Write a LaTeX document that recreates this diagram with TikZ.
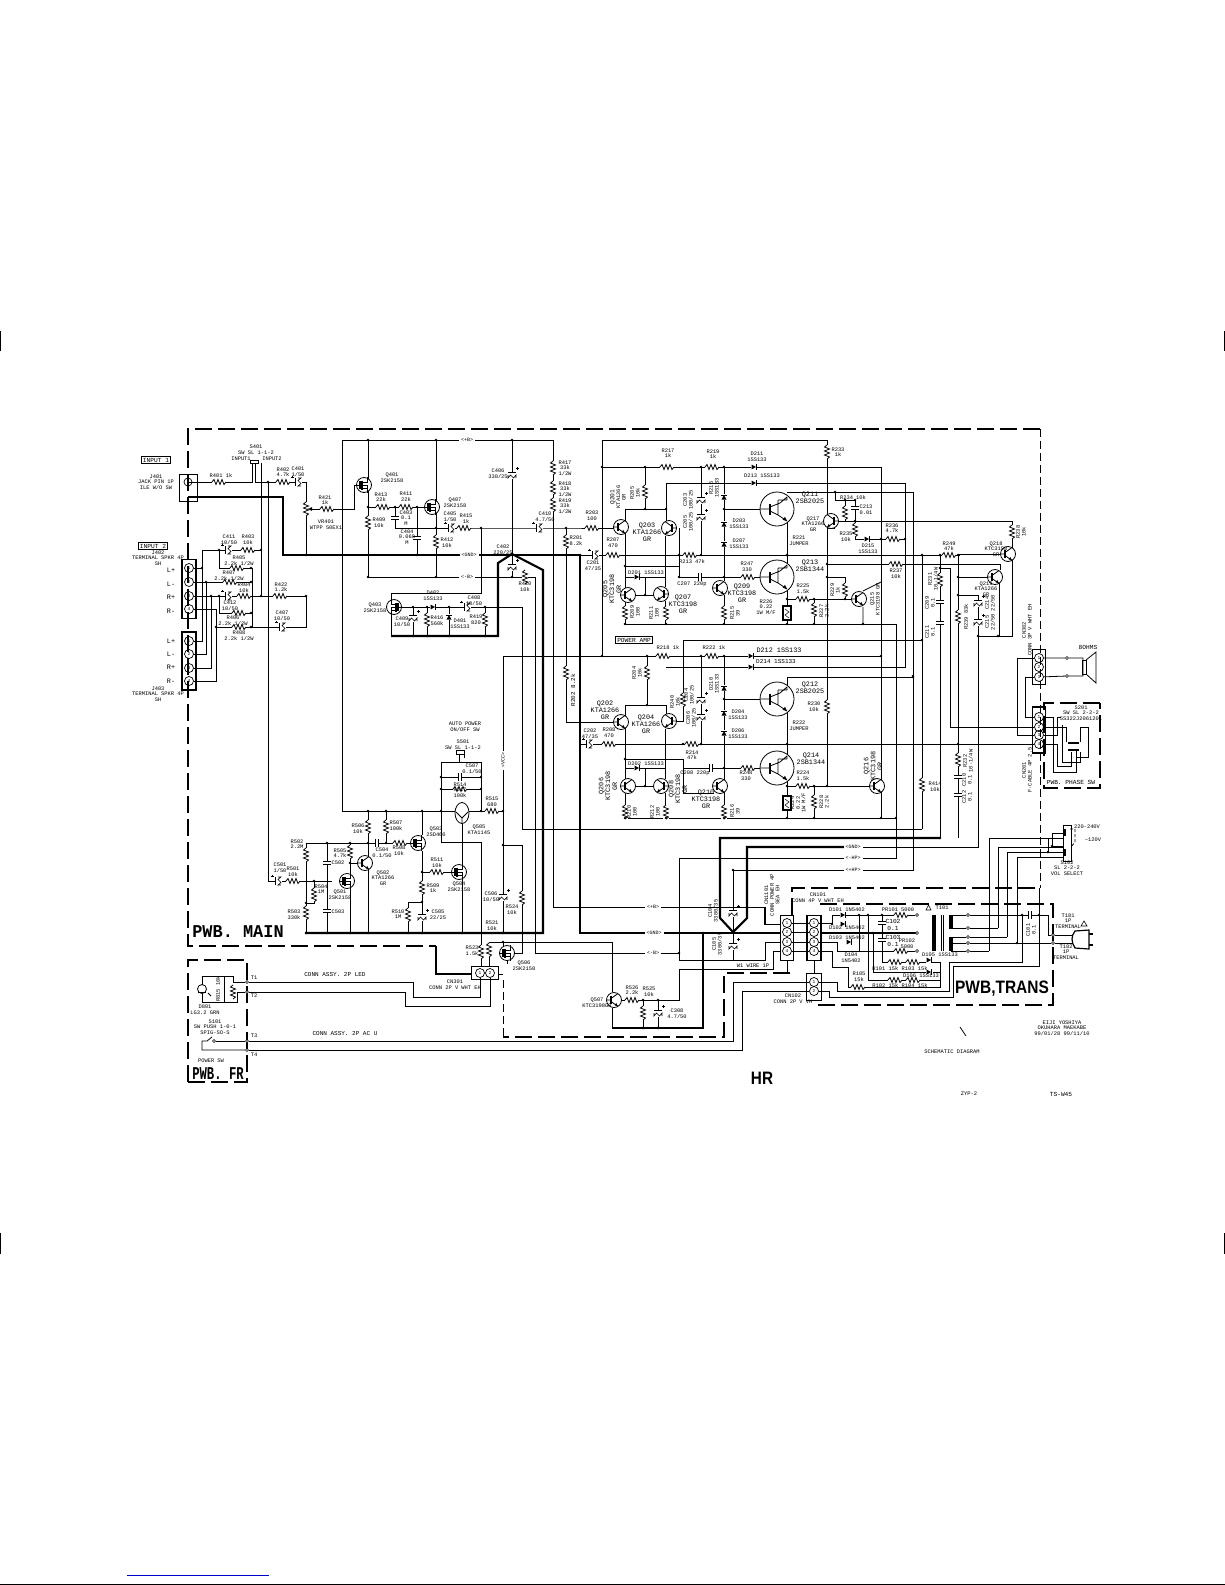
\documentclass[tikz,border=0pt]{standalone}
\usepackage{fontspec}
\setmainfont{Liberation Sans}
\setmonofont{Liberation Mono}
\usetikzlibrary{positioning,shapes.geometric}

\tikzset{
  wire/.style={line width=0.8pt},
  bus/.style={line width=2.1pt},
  frame/.style={line width=2pt, dash pattern=on 17pt off 6pt},
  thinframe/.style={line width=1pt, dash pattern=on 8pt off 4pt},
  lbl/.style={font=\ttfamily\fontsize{5.4}{5.6}\selectfont, inner sep=0pt, align=center},
  mid/.style={font=\ttfamily\fontsize{6.8}{6.8}\selectfont, inner sep=0pt, align=center},
  big/.style={font=\ttfamily\bfseries\fontsize{18}{18}\selectfont, inner sep=0pt},
  tag/.style={draw, line width=0.7pt, font=\ttfamily\fontsize{6.2}{6.2}\selectfont, inner xsep=1.5pt, inner ysep=1.5pt},
  buslbl/.style={fill=white, font=\ttfamily\fontsize{5}{5}\selectfont, inner xsep=2pt, inner ysep=1pt},
  pinn/.style={draw, circle, line width=0.7pt, minimum size=9pt, inner sep=0pt, font=\ttfamily\fontsize{4.5}{4.5}\selectfont},
  conbox/.style={draw, line width=1.8pt, inner sep=0pt},
  term/.style={draw, circle, fill=white, line width=0.6pt, minimum size=3pt, inner sep=0pt},
  reshor/.pic={\fill[white] (-7,-3) rectangle (7,3);
    \draw[wire] (-7,0) -- (-5,-2.5) -- (-3,2.5) -- (-1,-2.5) -- (1,2.5) -- (3,-2.5) -- (5,2.5) -- (7,0);},
  resver/.pic={\fill[white] (-3,-7) rectangle (3,7);
    \draw[wire] (0,-7) -- (-2.5,-5) -- (2.5,-3) -- (-2.5,-1) -- (2.5,1) -- (-2.5,3) -- (2.5,5) -- (0,7);},
  caphor/.pic={\fill[white] (-1.2,-4) rectangle (1.2,4);
    \draw[line width=1.1pt] (-1.2,-4) -- (-1.2,4) (1.2,-4) -- (1.2,4);},
  capver/.pic={\fill[white] (-4,-1.2) rectangle (4,1.2);
    \draw[line width=1.1pt] (-4,-1.2) -- (4,-1.2) (-4,1.2) -- (4,1.2);},
  ecaphor/.pic={\fill[white] (-3,-4) rectangle (4,4);
    \draw[line width=1.5pt] (-2.5,-4) -- (-2.5,4);
    \draw[line width=0.6pt] (0,-4) -- (3,-4) -- (0,-1.5) -- (3,1.5) -- (0,4) -- (3,4);
    \draw[line width=0.7pt] (-7,-5) -- (-4.5,-5) (-5.7,-6.2) -- (-5.7,-3.8);},
  ecapver/.pic={\fill[white] (-4,-3) rectangle (4,4);
    \draw[line width=1.5pt] (-4,-2.5) -- (4,-2.5);
    \draw[line width=0.6pt] (-4,0) -- (-4,3) -- (-1.5,0) -- (1.5,3) -- (4,0) -- (4,3);
    \draw[line width=0.7pt] (4,-6.5) -- (6.5,-6.5) (5.2,-7.7) -- (5.2,-5.3);},
  diohor/.pic={\fill[white] (-3,-3) rectangle (3,3);
    \fill (-2.5,-2.5) -- (2,0) -- (-2.5,2.5) -- cycle;
    \draw[line width=1pt] (2,-2.7) -- (2,2.7);},
  diover/.pic={\fill[white] (-3,-3) rectangle (3,3);
    \fill (-2.5,2.5) -- (0,-2) -- (2.5,2.5) -- cycle;
    \draw[line width=1pt] (-2.7,-2) -- (2.7,-2);},
  bjt/.pic={\draw[wire, fill=white] (0,0) circle (7.5);
    \draw[wire] (-7.5,0) -- (-3,0) (-3,-1.5) -- (4,-6.5) (-3,1.5) -- (4,6.5);
    \draw[line width=1.5pt] (-3,-4) -- (-3,4);
    \fill (4,6.5) -- (0.6,5.2) -- (2.3,2.9) -- cycle;},
  mosfet/.pic={\draw[wire, fill=white] (0,0) circle (7.5);
    \draw[wire] (-7.5,0) -- (-4,0) (-2,-3) -- (3,-3) -- (3,-8) (-2,3) -- (3,3) -- (3,8) (-2,0) -- (3,0) -- (3,3);
    \draw[line width=1.4pt] (-4,-4) -- (-4,4) (-2,-4.5) -- (-2,4.5);},
  powerq/.pic={\draw[wire, fill=white] (0,0) circle (17);
    \draw[wire] (-17,0) -- (-7,0) (-7,-2) -- (3,-6) (-7,2) -- (1,6) -- (10,12) (3,-6) -- (10,-12) (1,6) -- (1,-9) (1,-9) -- (10,-9) (10,-9) -- (10,-12);
    \draw[line width=2pt] (-7,-5.5) -- (-7,5.5);
    \fill (10,12) -- (5.6,10.8) -- (8,7.8) -- cycle;},
}

\newcommand{\dotsat}[1]{\foreach \x/\y in {#1} \fill (\x,\y) circle (1.4);}

\begin{document}
\begin{tikzpicture}[x=1pt,y=-1pt]
  \useasboundingbox (0,0) rectangle (1225,1585);

  % page marks
  \draw[line width=1pt] (0.5,331) -- (0.5,351) (1224.5,331) -- (1224.5,351);
  \draw[line width=1pt] (0.5,1233) -- (0.5,1254) (1224.5,1233) -- (1224.5,1254);
  \draw[line width=1pt, blue!80!black] (127,1575) -- (269,1575);
  \draw[line width=1.2pt] (0,1584.4) -- (1225,1584.4);

  % board frames
  \draw[frame] (1040,429) -- (188,429) -- (188,946) -- (436,946);
  \draw[line width=2pt] (436,946) -- (436,974) -- (472,974);
  \draw[thinframe] (1040,429) -- (1040,888);
  \draw[frame] (792,915) -- (792,888) -- (1039,888);
  \draw[frame] (820,904) -- (1053,904) -- (1053,1005) -- (815,1005);
  \draw[frame] (790,973) -- (724,973) -- (724,1037) -- (503,1037);
  \draw[thinframe] (503,980) -- (503,1037);
  \draw[frame] (188,1082) -- (188,960) -- (247,960) -- (247,1082) -- cycle;
  \draw[frame] (1100,703) -- (1044,703) -- (1044,788) -- (1100,788) -- cycle;

  % ground bus
  \draw[bus] (188,497) -- (283,497) -- (283,555) -- (580,555) -- (580,933) -- (780,933);
  \draw[bus] (391,636) -- (498,636) -- (498,563) -- (512,554) -- (543,570) -- (543,933) -- (305,933);
  \draw[bus] (612,1028) -- (703,1028) -- (703,933);
  \draw[bus] (940,838) -- (720,838) -- (720,918) -- (733,932) -- (747,918) -- (747,847) -- (845,847);
  \draw[bus] (821,933) -- (917,933);

  % input side wiring
  \draw[wire] (188,482) -- (252,482) -- (252,462);
  \draw[wire] (255,463) -- (255,482) -- (306,482) -- (306,555);
  \draw[wire] (261,463) -- (261,595);
  \draw[wire] (268,482) -- (268,881) -- (306,881);
  \draw[wire] (202,568) -- (202,550) -- (261,550);
  \draw[wire] (219,550) -- (219,568) -- (252,568) -- (252,627);
  \draw[wire] (206,582) -- (251,582);
  \draw[wire] (211,596) -- (306,596) -- (306,627) -- (216,627);
  \draw[wire] (219,596) -- (219,613) -- (252,613);

  % preamp
  \draw[wire] (312,509) -- (354,509) -- (354,485) -- (357,485);
  \draw[wire] (342,811) -- (342,440) -- (553,440) -- (553,907) -- (764,907) -- (764,924) -- (781,924);
  \draw[wire] (368,440) -- (368,577) -- (535,577) -- (535,953) -- (679,953);
  \draw[wire] (368,507) -- (425,507);
  \draw[wire] (436,440) -- (436,577);
  \draw[wire] (395,507) -- (395,528) -- (539,528) -- (625,528);
  \draw[wire] (417,507) -- (417,555);
  \draw[wire] (481,528) -- (481,593) -- (391,593) -- (391,636);
  \draw[wire] (401,607) -- (522,607) -- (522,829) -- (922,829);
  \draw[wire] (413,607) -- (413,636) (427,607) -- (427,636) (449,607) -- (449,636) (485,607) -- (485,636);
  \draw[wire] (512,440) -- (512,577);

  % upper power amp
  \draw[wire] (602,656) -- (602,440) -- (827,440) -- (827,786);
  \draw[wire] (602,467) -- (881,467) -- (881,818);
  \draw[wire] (645,467) -- (645,509);
  \draw[wire] (625,533) -- (625,509) -- (666,509) -- (666,520);
  \draw[wire] (666,535) -- (666,483) -- (905,483) -- (905,667) -- (666,667);
  \draw[wire] (625,533) -- (625,588) (665,536) -- (665,587);
  \draw[wire] (625,566) -- (679,566) (625,577) -- (666,577) (645,577) -- (645,595) (635,595) -- (654,595);
  \draw[wire] (625,602) -- (625,624) -- (896,624) -- (896,858) -- (679,858) -- (679,960) -- (765,960) -- (765,942) -- (781,942);
  \draw[wire] (665,601) -- (665,624);
  \draw[wire] (724,467) -- (724,581);
  \draw[wire] (724,509) -- (760,509);
  \draw[wire] (787,492) -- (913,492) -- (913,870) -- (733,870) -- (733,960);
  \draw[wire] (787,521) -- (787,565);
  \draw[wire] (580,555) -- (960,555);
  \draw[wire] (679,528) -- (679,577) -- (724,577);
  \draw[wire] (724,577) -- (760,577);
  \draw[wire] (701,467) -- (701,555);
  \draw[wire] (724,595) -- (724,624);
  \draw[wire] (787,589) -- (787,624);
  \draw[wire] (787,599) -- (852,599);
  \draw[wire] (814,599) -- (814,624);
  \draw[wire] (827,577) -- (845,577) -- (845,599);
  \draw[wire] (863,591) -- (881,582) (863,607) -- (863,624);
  \draw[wire] (827,564) -- (1000,564) -- (1000,570);
  \draw[wire] (835,492) -- (835,500) -- (855,500) -- (855,539) -- (905,539);
  \draw[wire] (845,500) -- (845,521);
  \draw[wire] (839,521) -- (1012,521) -- (1012,636) -- (978,636);
  \draw[wire] (835,528) -- (827,528);

  % lower power amp
  \draw[wire] (503,811) -- (503,656) -- (881,656);
  \draw[wire] (647,656) -- (647,705);
  \draw[wire] (625,728) -- (625,705) -- (666,705) -- (666,714);
  \draw[wire] (566,555) -- (566,722) -- (614,722);
  \draw[wire] (566,528) -- (566,555);
  \draw[wire] (625,728) -- (625,779) (665,729) -- (665,779);
  \draw[wire] (625,793) -- (625,818) -- (896,818);
  \draw[wire] (665,793) -- (665,818);
  \draw[wire] (625,759) -- (683,759) -- (683,793) -- (714,793);
  \draw[wire] (625,768) -- (666,768) (645,768) -- (645,786) (635,786) -- (654,786);
  \draw[wire] (580,744) -- (960,744);
  \draw[wire] (676,721) -- (683,721) -- (683,640) -- (922,640);
  \draw[wire] (701,656) -- (701,744);
  \draw[wire] (724,656) -- (724,780);
  \draw[wire] (724,699) -- (760,699);
  \draw[wire] (683,768) -- (760,768);
  \draw[wire] (787,688) -- (787,677) -- (913,677);
  \draw[wire] (787,711) -- (787,756);
  \draw[wire] (787,780) -- (787,818);
  \draw[wire] (787,786) -- (870,786);
  \draw[wire] (814,786) -- (814,818);
  \draw[wire] (724,792) -- (724,818);
  \draw[wire] (881,779) -- (881,793);

  % right hand rail
  \draw[wire] (922,555) -- (922,829);
  \draw[wire] (940,555) -- (940,838);
  \draw[wire] (958,555) -- (958,838);
  \draw[wire] (958,554) -- (1000,554);
  \draw[wire] (958,577) -- (988,577);
  \draw[wire] (958,595) -- (978,595) -- (978,847) -- (845,847);
  \draw[wire] (999,583) -- (999,636);

  % auto power section
  \draw[wire] (342,811) -- (503,811);
  \draw[wire] (503,811) -- (503,933);
  \draw[wire] (503,845) -- (522,845) -- (522,953) -- (515,953);
  \draw[wire] (306,843) -- (412,843);
  \draw[wire] (306,843) -- (306,933);
  \draw[wire] (306,903) -- (314,903) -- (314,881);
  \draw[wire] (306,881) -- (332,881);
  \draw[wire] (327,843) -- (327,933);
  \draw[wire] (350,843) -- (350,873) (350,889) -- (350,933) (350,863) -- (358,863);
  \draw[wire] (368,811) -- (368,857) (368,870) -- (368,933);
  \draw[wire] (386,811) -- (386,843);
  \draw[wire] (422,811) -- (422,835) (422,851) -- (422,933) (422,872) -- (452,872);
  \draw[wire] (422,902) -- (408,902) -- (408,933);
  \draw[wire] (441,811) -- (441,762) -- (481,762) -- (481,811) (441,777) -- (481,777) (441,789) -- (481,789);
  \draw[wire] (441,811) -- (441,842) -- (481,842) -- (481,967);
  \draw[wire] (459,754) -- (459,762) (464,754) -- (464,758);
  \draw[wire] (462,820) -- (462,933);
  \draw[wire] (490,942) -- (612,942) -- (612,992);
  \draw[wire] (489,942) -- (489,967);
  \draw[wire] (503,942) -- (503,946);
  \draw[wire] (507,961) -- (507,964);
  \draw[wire] (612,1008) -- (612,1028);
  \draw[wire] (622,1000) -- (679,1000) -- (679,969) -- (773,969) -- (773,951) -- (781,951);
  \draw[wire] (643,1000) -- (643,1028) (658,1000) -- (658,1028);
  \draw[wire] (765,907) -- (765,924);

  % connectors J402, J403, J401
  \node[conbox, minimum width=14pt, minimum height=59pt] (J402box) at (189,589) {};
  \node[conbox, minimum width=14pt, minimum height=58pt] (J403box) at (189,661) {};
  \node[draw, line width=1pt, minimum width=18pt, minimum height=27pt, inner sep=0pt] (J401box) at (188,488) {};
  \node[pinn, minimum size=8pt] (J401pin) at (188,482) {};
  \foreach \n/\y/\t in {a/568/1,b/582/2,c/596/3,d/609/4} \node[pinn] (J402\n) at (189,\y) {\t};
  \foreach \n/\y/\t in {a/641/1,b/654/2,c/668/3,d/681/4} \node[pinn] (J403\n) at (189,\y) {\t};
  \draw[wire] (J402a) -- (202,568) -- (202,641) -- (J403a);
  \draw[wire] (J402b) -- (206,582) -- (206,654) -- (J403b);
  \draw[wire] (J402c) -- (211,596) -- (211,668) -- (J403c);
  \draw[wire] (J402d) -- (216,609) -- (216,681) -- (J403d);
  \foreach \t/\y/\s in {L+/570/Lp1,L-/584/Lm1,R+/597/Rp1,R-/611/Rm1,L+/641/Lp2,L-/654/Lm2,R+/667/Rp2,R-/681/Rm2}
    \node[mid] (\s) at (171,\y) {\t};

  % connectors to power side
  \node[conbox, minimum width=13pt, minimum height=45pt] (CN1101box) at (787,938) {};
  \node[conbox, minimum width=14pt, minimum height=45pt] (CN101box) at (814,938) {};
  \node[conbox, line width=1pt, minimum width=15pt, minimum height=27pt] (CN102box) at (814,987) {};
  \foreach \n/\y/\t in {a/923/1,b/932/2,c/942/3,d/951/4} {
    \node[pinn] (CNa\n) at (787,\y) {\t};
    \node[pinn] (CNb\n) at (814,\y) {\t};
    \draw[wire] (CNa\n) -- (CNb\n);
  }
  \node[pinn] (CN102a) at (814,982) {1};
  \node[pinn] (CN102b) at (814,991) {2};
  \draw[wire] (787,960) -- (787,973) (814,960) -- (814,973);

  \node[conbox, minimum width=27pt, minimum height=13pt] (CN301box) at (485,973) {};
  \node[pinn] (CN301a) at (480,973) {1};
  \node[pinn] (CN301b) at (490,973) {2};
  \draw[wire] (499,974) -- (503,974);

  \node[conbox, line width=1.4pt, minimum width=13pt, minimum height=35pt] (CN302box) at (1039,667) {};
  \node[conbox, line width=1.6pt, minimum width=13pt, minimum height=46pt] (CN201box) at (1039,730) {};
  \foreach \n/\y/\t in {a/658/1,b/667/2,c/677/3} \node[pinn] (CP\n) at (1039,\y) {\t};
  \foreach \n/\y/\t in {a/717/1,b/727/2,c/735/3,d/744/4} \node[pinn] (CF\n) at (1039,\y) {\t};

  % links to the front board
  \node[term] (T11) at (247,982) {};
  \node[term] (T12) at (247,992) {};
  \node[term] (T13) at (247,1041) {};
  \node[term] (T14) at (247,1050) {};
  \draw[wire] (CN301a) -- (480,997) -- (413,997) -- (413,982) -- (T11);
  \draw[wire] (CN301b) -- (490,1006) -- (405,1006) -- (405,992) -- (T12);
  \draw[wire] (T13) -- (733,1041) -- (733,982) -- (CN102a);
  \draw[wire] (T14) -- (742,1050) -- (742,991) -- (CN102b);
  \draw[wire] (T11) -- (233,982) -- (233,976) -- (202,976) -- (202,1002) -- (237,1002) -- (237,992) -- (T12);
  \draw[wire] (224,976) -- (224,1002);
  \node[term] (S101a) at (214,1041) {};
  \draw[wire] (T13) -- (S101a);
  \draw[wire] (T14) -- (202,1050) -- (202,1041) -- (207,1041) -- (212,1037);

  % speaker and phase switch
  \node[term] (SPa) at (1067,658) {};
  \node[term] (SPb) at (1067,676) {};
  \draw[wire] (CPa) -- (SPa) -- (1083,658) -- (1083,676) -- (SPb) -- (CPc);
  \node[draw, line width=0.7pt, inner sep=0pt, minimum width=3.5pt, minimum height=14pt] (spcoil) at (1084.5,667) {};
  \draw[line width=0.8pt] (1086,660) -- (1096,652) -- (1096,683) -- (1086,674);
  \draw[wire] (CPa) -- (1017,658) -- (1017,735) -- (CFc);
  \draw[wire] (CPc) -- (1025,677) -- (1025,717) -- (CFa);
  \draw[wire] (950,568) -- (950,727) -- (CFb);
  \draw[wire] (940,568) -- (950,568);
  \draw[wire] (958,744) -- (CFd);
  \draw[wire] (CFa) -- (1053,717) -- (1053,772) -- (1076,772) -- (1076,750);
  \draw[wire] (CFb) -- (1066,727) -- (1066,742);
  \draw[wire] (CFc) -- (1057,735) -- (1057,717) -- (1061,717);
  \draw[wire] (CFd) -- (1057,744) -- (1057,766) -- (1071,766) -- (1071,752);
  \draw[wire] (1062,725) -- (1062,762) -- (1080,762) -- (1080,752);
  \draw[wire] (1080,742) -- (1080,727) -- (1088,727) -- (1088,757) -- (1076,757);
  \draw[line width=2.2pt] (1068,743) -- (1079,743) (1068,750) -- (1079,750);

  % voltage selector
  \node[draw, line width=0.8pt, minimum width=8pt, minimum height=36pt, inner sep=0pt] (S102box) at (1067,843) {};
  \draw[line width=2pt] (1065,829) -- (1065,836) (1065,849) -- (1065,856);
  \draw[wire, densely dashed] (1070,829) -- (1075,829) -- (1075,842) -- (1071,847);
  \draw[wire] (1063,838) -- (989,838) -- (989,951);
  \draw[wire] (1063,846) -- (1052,846) -- (1052,833) -- (1063,833);
  \draw[wire] (1063,852) -- (1007,852) -- (1007,937);
  \draw[wire] (1063,857) -- (1017,857) -- (1017,943);
  \draw[wire] (1063,847) -- (998,847) -- (998,928);
  \draw[wire] (1048,838) -- (1048,852);
  \dotsat{1048/852,1052/846}

  % transformer side
  \node[term] (P1) at (917,915) {};
  \node[term] (P2) at (917,933) {};
  \node[term] (P3) at (917,951) {};
  \foreach \n/\y in {a/915,b/928,c/937,d/943,e/951} \node[term] (S\n) at (968,\y) {};
  \draw[line width=4pt] (934,915) -- (934,951);
  \draw[wire] (941,915) -- (941,951) (943.5,915) -- (943.5,951);
  \draw[line width=4pt] (951,915) -- (951,929) (951,937) -- (951,951);
  \draw[wire] (951,915) -- (Sa) (951,928) -- (Sb) (951,937) -- (Sc) (951,943) -- (Sd) (951,951) -- (Se);
  \draw[wire] (Se) -- (989,951) (Sb) -- (998,928) (Sc) -- (1007,937) (Sd) -- (1017,943);
  \node[term] (AC1) at (1053,935) {};
  \node[term] (AC2) at (1053,943) {};
  \draw[wire] (Sa) -- (1039,915) -- (1048,915) -- (1048,935) -- (AC1);
  \draw[wire] (Sd) -- (AC2);
  \draw[wire] (1022,915) -- (1022,962) -- (949,962) -- (949,991) -- (837,991) -- (837,982) -- (CN102a);
  \draw[wire] (1039,888) -- (1039,966) -- (953,966) -- (953,997) -- (829,997) -- (829,991) -- (CN102b);
  \draw[wire] (CNbd) -- (832,951) -- (832,967) -- (848,967) -- (848,987) -- (940,987) -- (940,962);
  \draw[wire] (CNba) -- (832,923) -- (832,915) -- (P1);
  \draw[wire] (CNbc) -- (837,942) -- (837,951) -- (859,951);
  \draw[wire] (859,915) -- (859,951) -- (P3);
  \draw[wire] (868,915) -- (868,980) -- (940,980);
  \draw[wire] (873,933) -- (873,972) -- (930,972) (933,972) -- (940,972);
  \draw[wire] (882,915) -- (882,962) -- (940,962);
  \draw[wire] (AC1) -- (1075,935) (AC2) -- (1075,943);
  \draw[line width=1.2pt, fill=white] (1075,931) .. controls (1071,936) and (1071,942) .. (1075,948) -- (1089,949) -- (1089,930) -- cycle;
  \draw[line width=1.2pt] (1089,934) -- (1093,934) (1089,945) -- (1093,945);
  \draw[line width=0.6pt] (926,910) -- (931,910) -- (928.5,905) -- cycle;
  \draw[line width=0.6pt] (1081,926) -- (1087,926) -- (1084,921) -- cycle;

  % resistors
  \foreach \x/\y in {219/482,283/482,327/509,383/507,406/507,464/528,248/550,237/568,230/582,244/596,239/613,239/627,280/596,
    592/528,613/555,690/555,667/467,712/467,748/577,803/599,893/539,609/744,692/744,663/656,712/656,748/768,803/786,
    949/555,896/564,293/881,400/843,437/872,492/811,460/789,632/1000,901/915,901/951,895/962,913/962,895/980,913/980,858/987}
    \pic at (\x,\y) {reshor};
  \foreach \x/\y in {306/509,368/523,436/542,427/620,485/620,525/577,
    553/468,553/488,553/505,566/542,566/673,645/492,845/513,855/530,827/452,827/707,814/610,814/802,845/590,
    625/613,666/613,724/613,625/812,666/812,724/812,647/673,683/700,
    1012/532,940/580,958/617,958/760,922/785,
    306/855,306/913,314/895,350/852,368/827,386/827,422/888,408/915,522/898,481/952,489/950,643/1013,233/992}
    \pic at (\x,\y) {resver};
  \draw[line width=1.6pt, fill=white] (783,606) rectangle (791,620);
  \draw[line width=1.6pt, fill=white] (783,796) rectangle (791,810);
  \draw[line width=0.5pt] (785,609) -- (789,612) -- (785,615) -- (789,618);
  \draw[line width=0.5pt] (785,799) -- (789,802) -- (785,805) -- (789,808);

  % capacitors
  \foreach \x/\y in {700/577,711/768,460/777,377/843,1030/915}
    \pic at (\x,\y) {caphor};
  \foreach \x/\y in {395/518,417/538,855/508,940/602,940/623,958/777,958/795,327/863,327/911,882/923,882/940}
    \pic at (\x,\y) {capver};
  \foreach \x/\y in {298/482,228/550,228/596,282/627,451/528,539/528,467/607,595/555,589/744,278/881}
    \pic at (\x,\y) {ecaphor};
  \foreach \x/\y in {512/475,512/567,413/618,701/500,701/517,701/700,701/717,978/603,978/622,422/917,503/897,658/1013,733/913,733/946}
    \pic at (\x,\y) {ecapver};

  % diodes
  \foreach \x/\y in {754/467,754/483,751/656,751/667,637/577,637/768,867/539,433/607,843/915,843/924,849/942,929/960,929/972}
    \pic at (\x,\y) {diohor};
  \foreach \x/\y in {724/497,724/524,724/544,724/688,724/713,724/733,449/617}
    \pic at (\x,\y) {diover};

  % transistors
  \foreach \x/\y in {628/595,720/588,720/786,628/786,859/599,877/786,614/1000,995/577,1008/554}
    \pic at (\x,\y) {bjt};
  \pic[xscale=-1] at (661,594) {bjt};
  \pic[xscale=-1] at (661,786) {bjt};
  \pic at (621,527) {bjt};
  \pic at (621,722) {bjt};
  \pic[xscale=-1] at (669,528) {bjt};
  \pic[xscale=-1] at (669,721) {bjt};
  \pic[xscale=-1] at (831,521) {bjt};
  \pic at (365,863) {bjt};
  \foreach \x/\y in {364/485,432/507,347/881,418/843,459/872,507/953}
    \pic at (\x,\y) {mosfet};
  \pic[xscale=-1] at (394,607) {mosfet};
  \foreach \x/\y in {777/509,777/577,777/699,777/768}
    \pic at (\x,\y) {powerq};
  \node[draw, ellipse, line width=0.8pt, fill=white, minimum width=14pt, minimum height=21pt, inner sep=0pt] (Q505) at (462,813) {};
  \draw[wire] (456,812) -- (462,818) -- (468,812) (462,818) -- (462,824);

  % led, pot wiper, switches
  \draw[wire, fill=white] (202,989) circle (4.5);
  \draw[line width=1pt] (198,992) -- (206,992);
  \draw[wire] (208,993) -- (211,996);
  \draw[wire, -latex] (306,509) ++(6,0) -- ++(-5,0);
  \draw[line width=0.9pt, fill=white] (250,460) rectangle (258,463);
  \draw[line width=0.9pt, fill=white] (456,750) rectangle (464,754);

  % junctions
  \dotsat{268/482,261/550,261/596,202/568,206/582,211/596,216/627,219/550,219/596,251/568,251/582,251/613,251/627,
    306/555,306/596,368/507,395/507,417/507,417/555,436/528,436/440,368/440,368/577,436/577,481/528,512/440,512/555,512/577,
    413/607,427/607,449/607,485/607,413/636,427/636,449/636,485/636,566/528,566/555,580/555,
    602/467,645/467,701/467,724/467,645/509,666/509,625/566,679/555,679/577,645/595,701/555,724/509,724/577,787/555,787/599,814/599,
    625/624,666/624,724/624,787/624,814/624,863/624,827/564,827/577,845/599,835/492,845/500,855/500,855/521,881/539,905/539,
    602/656,647/656,701/656,724/656,881/656,647/705,625/759,645/786,683/744,701/744,724/699,724/768,787/744,787/786,814/786,827/786,
    625/818,666/818,724/818,787/818,814/818,881/818,896/818,913/677,922/555,940/555,958/555,922/640,940/568,958/577,958/595,958/744,
    978/636,998/636,940/838,913/676,
    306/903,314/881,327/843,350/843,350/863,368/811,368/843,386/811,386/843,422/811,422/872,422/902,441/777,441/789,441/811,481/777,481/789,481/811,
    503/811,503/845,503/933,503/942,306/933,327/933,350/933,368/933,408/933,422/933,462/933,
    643/1000,658/1000,643/1028,658/1028,679/953,703/933,733/932,733/870,
    832/924,859/915,868/915,882/915,873/933,882/933,1022/915,1039/915,1017/943}

  % bus tags
  \node[buslbl] (tagB1) at (467,440) {<+B>};
  \node[buslbl] (tagG1) at (469,555) {<GND>};
  \node[buslbl] (tagM1) at (467,577) {<-B>};
  \node[buslbl, rotate=90] (tagV) at (503,760) {<VCC>};
  \node[buslbl] (tagG2) at (853,847) {<GND>};
  \node[buslbl] (tagHm) at (853,858) {<-HP>};
  \node[buslbl] (tagHp) at (853,870) {<+HP>};
  \node[buslbl] (tagB2) at (653,907) {<+B>};
  \node[buslbl] (tagG3) at (654,933) {<GND>};
  \node[buslbl] (tagM2) at (653,953) {<-B>};

  % boxed titles and board names
  \node[tag] (input1) at (156,460) {INPUT 1};
  \node[tag] (input2) at (153,546) {INPUT 2};
  \node[tag] (powamp) at (634,640) {POWER AMP};
  \node[big] (pwbmain) at (238,932) {\scalebox{0.94}[1]{PWB. MAIN}};
  \node[big] (pwbfr) at (218,1074) {\scalebox{0.68}[1]{PWB. FR}};
  \node[font=\bfseries\fontsize{18}{18}\selectfont, inner sep=0pt] (pwbtrans) at (1002,989) {\scalebox{0.86}[1]{PWB,TRANS}};
  \node[font=\bfseries\fontsize{18}{18}\selectfont, inner sep=0pt] (hr) at (762,1078) {\scalebox{0.85}[1]{HR}};
  \node[mid, font=\ttfamily\fontsize{6.2}{6.2}\selectfont] (pwbphase) at (1071,782) {PWB. PHASE SW};

  % input labels
  \node[lbl] (J401t) at (156,482) {J401\\JACK PIN 1P\\ILE W/O SW};
  \node[lbl] (S401t) at (256,450) {S401\\SW SL 1-1-2};
  \node[lbl] (S401a) at (241,459) {INPUT1};
  \node[lbl] (S401b) at (272,459) {INPUT2};
  \node[lbl] (J402t) at (158,558) {J402\\TERMINAL SPKR 4P\\SH};
  \node[lbl] (J403t) at (158,694) {J403\\TERMINAL SPKR 4P\\SH};
  \node[lbl] (R401t) at (221,476) {R401 1k};
  \node[lbl] (R402t) at (283,472) {R402\\4.7k};
  \node[lbl] (C401t) at (298,472) {C401\\1/50};
  \node[lbl] (R421t) at (325,500) {R421\\1k};
  \node[lbl] (VR401t) at (326,525) {VR401\\WTPP 50EX1};
  \node[lbl] (C411t) at (229,540) {C411\\10/50};
  \node[lbl] (R403t) at (248,540) {R403\\10k};
  \node[lbl] (R405t) at (239,561) {R405\\2.2k 1/2W};
  \node[lbl] (R407t) at (229,576) {R407\\2.2k 1/2W};
  \node[lbl] (R404t) at (244,588) {R404\\10k};
  \node[lbl] (C412t) at (230,606) {C412\\10/50};
  \node[lbl] (R408t) at (233,621) {R406\\2.2k 1/2W};
  \node[lbl] (R406t) at (239,636) {R408\\2.2k 1/2W};
  \node[lbl] (R422t) at (281,587) {R422\\1.2k};
  \node[lbl] (C407t) at (282,616) {C407\\10/50};
  % preamp labels
  \node[lbl] (Q401t) at (392,478) {Q401\\2SK2158};
  \node[lbl] (Q407t) at (455,503) {Q407\\2SK2158};
  \node[lbl] (R413t) at (381,497) {R413\\22k};
  \node[lbl] (R411t) at (406,497) {R411\\22k};
  \node[lbl] (R409t) at (379,523) {R409\\10k};
  \node[lbl] (C403t) at (406,518) {C403\\0.1\\M};
  \node[lbl] (C404t) at (407,537) {C404\\0.068\\M};
  \node[lbl] (C405t) at (450,517) {C405\\1/50};
  \node[lbl] (R415t) at (466,519) {R415\\1k};
  \node[lbl] (R412t) at (447,543) {R412\\10k};
  \node[lbl] (C406t) at (498,474) {C406\\330/25};
  \node[lbl] (C402t) at (503,550) {C402\\220/25};
  \node[lbl] (C413t) at (545,517) {C410\\4.7/50};
  \node[lbl] (R420t) at (525,587) {R420\\10k};
  \node[lbl] (Q403t) at (375,608) {Q403\\2SK2158};
  \node[lbl] (C409t) at (402,622) {C409\\10/50};
  \node[lbl] (D402t) at (433,596) {D402\\1SS133};
  \node[lbl] (R416t) at (437,621) {R416\\560k};
  \node[lbl] (D401t) at (460,624) {D401\\1SS133};
  \node[lbl] (C408t) at (474,601) {C408\\10/50};
  \node[lbl] (R419t) at (476,620) {R419\\820};
  \node[lbl] (R417t) at (565,468) {R417\\33k\\1/2W};
  \node[lbl] (R418t) at (565,489) {R418\\33k\\1/2W};
  \node[lbl] (R419bt) at (565,506) {R419\\33k\\1/2W};
  % upper amp labels
  \node[lbl] (R217t) at (668,453) {R217\\1k};
  \node[lbl] (R219t) at (713,454) {R219\\1k};
  \node[lbl] (D211t) at (757,457) {D211\\1SS133};
  \node[lbl] (D213t) at (762,476) {D213 1SS133};
  \node[lbl, rotate=90] (Q201t) at (618,497) {\fontsize{6.2}{6.2}\selectfont Q201\\KTA1266\\GR};
  \node[lbl, rotate=90] (R205t) at (635,493) {R205\\10k};
  \node[lbl] (R203t) at (592,516) {R203\\100};
  \node[lbl] (R201t) at (576,541) {R201\\8.2k};
  \node[mid] (Q203t) at (647,532) {Q203\\KTA1266\\GR};
  \node[lbl] (R207t) at (613,543) {R207\\470};
  \node[lbl] (C201t) at (593,566) {C201\\47/35};
  \node[lbl] (R213t) at (692,562) {R213 47k};
  \node[lbl, rotate=90] (C203t) at (688,500) {C203\\100/25};
  \node[lbl, rotate=90] (C205t) at (688,522) {C205\\100/25};
  \node[lbl, rotate=90] (D205t) at (714,488) {R215\\1SS133};
  \node[lbl] (D203t) at (739,524) {D203\\1SS133};
  \node[lbl] (D207t) at (739,544) {D207\\1SS133};
  \node[mid] (Q211t) at (810,498) {Q211\\2SB2025};
  \node[lbl] (Q217t) at (813,524) {Q217\\KTA1266\\GR};
  \node[lbl] (R234t) at (853,498) {R234 10k};
  \node[lbl] (C213t) at (866,510) {C213\\0.01};
  \node[lbl] (R235t) at (846,537) {R235\\10k};
  \node[lbl] (R236t) at (892,528) {R236\\4.7k};
  \node[lbl] (D215t) at (868,549) {D215\\1SS133};
  \node[lbl] (J221t) at (799,541) {R221\\JUMPER};
  \node[mid] (Q213t) at (810,566) {Q213\\2SB1344};
  \node[lbl] (R247t) at (747,567) {R247\\330};
  \node[lbl] (D201t) at (646,573) {D201 1SS133};
  \node[lbl] (C207t) at (692,584) {C207 220p};
  \node[mid] (Q209t) at (742,593) {Q209\\KTC3198\\GR};
  \node[mid, rotate=90] (Q205t) at (612,589) {Q205\\KTC3198\\GR};
  \node[mid] (Q207t) at (683,604) {Q207\\KTC3198\\GR};
  \node[lbl, rotate=90] (R209t) at (635,612) {R209\\100};
  \node[lbl, rotate=90] (R211t) at (654,613) {R211\\100};
  \node[lbl, rotate=90] (R215t) at (735,613) {R215\\39};
  \node[lbl] (R223t) at (766,607) {R226\\0.22\\1W M/F};
  \node[lbl] (R225t) at (803,589) {R225\\1.5k};
  \node[lbl, rotate=90] (R227t) at (824,611) {R227\\2.2k};
  \node[lbl, rotate=90] (R229t) at (835,590) {R229\\1k};
  \node[lbl] (R233t) at (838,452) {R233\\1k};
  \node[lbl] (R237t) at (896,574) {R237\\10k};
  \node[lbl, rotate=90] (Q215t) at (875,599) {Q215\\KTC3198 GR};
  % lower amp labels
  \node[lbl] (R218t) at (668,648) {R218 1k};
  \node[lbl] (R222t) at (714,648) {R222 1k};
  \node[mid] (D212t) at (779,650) {D212 1SS133};
  \node[lbl, font=\ttfamily\fontsize{6}{6}\selectfont] (D214t) at (776,662) {D214 1SS133};
  \node[lbl, rotate=90] (R202t) at (573,690) {\fontsize{6}{6}\selectfont R202 8.2k};
  \node[lbl, rotate=90] (R204t) at (637,673) {R204\\10k};
  \node[lbl, rotate=90] (D210t) at (714,684) {D210\\1SS133};
  \node[lbl] (D204t) at (738,715) {D204\\1SS133};
  \node[lbl] (D206t) at (738,734) {D206\\1SS133};
  \node[lbl, rotate=90] (C204t) at (689,695) {C204\\100/25};
  \node[lbl, rotate=90] (C206t) at (691,718) {C206\\100/25};
  \node[lbl, rotate=90] (R240t) at (675,702) {R240\\10k};
  \node[mid] (Q202t) at (605,710) {Q202\\KTA1266\\GR};
  \node[mid] (Q204t) at (646,724) {Q204\\KTA1266\\GR};
  \node[lbl] (C202t) at (590,734) {C202\\47/35};
  \node[lbl] (R208t) at (609,733) {R208\\470};
  \node[lbl] (R214t) at (692,755) {R214\\47k};
  \node[lbl] (D202t) at (646,764) {D202 1SS133};
  \node[lbl] (C208t) at (695,773) {C208 220p};
  \node[mid] (Q212t) at (810,688) {Q212\\2SB2025};
  \node[lbl] (J222t) at (799,726) {R222\\JUMPER};
  \node[lbl] (R230t) at (814,707) {R230\\10k};
  \node[mid] (Q214t) at (811,759) {Q214\\2SB1344};
  \node[lbl] (R248t) at (746,776) {R248\\330};
  \node[lbl] (R226t) at (803,776) {R224\\1.5k};
  \node[mid, rotate=90] (Q206t) at (608,786) {Q206\\KTC3198\\GR};
  \node[mid, rotate=90] (Q208t) at (678,789) {Q208\\KTC3198\\GR};
  \node[mid] (Q210t) at (706,799) {Q210\\KTC3198\\GR};
  \node[lbl, rotate=90] (R210t) at (632,812) {R210\\100};
  \node[lbl, rotate=90] (R212t) at (655,812) {R212\\100};
  \node[lbl, rotate=90] (R216t) at (735,811) {R216\\39};
  \node[lbl, rotate=90] (R224t) at (798,803) {R224\\0.22\\1W M/F};
  \node[lbl, rotate=90] (R228t) at (824,802) {R228\\2.2k};
  \node[mid, rotate=90] (Q216t) at (873,766) {Q216\\KTC3198\\GR};
  % right side labels
  \node[lbl] (R249t) at (949,546) {R249\\47k};
  \node[lbl, rotate=90] (R231t) at (933,579) {R231\\10-1/4W};
  \node[lbl, rotate=90] (C209t) at (930,603) {C209\\0.1};
  \node[lbl, rotate=90] (C211t) at (930,632) {C211\\0.1};
  \node[lbl, rotate=90] (R239t) at (966,617) {R239 83k};
  \node[lbl] (Q219t) at (986,589) {Q219\\KTA1266\\GR};
  \node[lbl] (Q218t) at (996,549) {Q218\\KTC3198\\GR};
  \node[lbl, rotate=90] (R238t) at (1021,532) {R238\\10k};
  \node[lbl, rotate=90] (C214t) at (990,603) {C214\\22/50};
  \node[lbl, rotate=90] (C215t) at (990,622) {C215\\22/50};
  \node[lbl, rotate=90] (R232t) at (968,761) {R232\\10-1/4W};
  \node[lbl, rotate=90] (C210t) at (967,780) {C210\\0.1};
  \node[lbl, rotate=90] (C212t) at (967,797) {C212\\0.1};
  \node[lbl] (R414t) at (935,787) {R414\\10k};
  \node[lbl, rotate=90] (CN302t) at (1027,630) {CN302\\CONN 3P V WHT EH};
  \node[lbl, font=\ttfamily\fontsize{6.2}{6.2}\selectfont] (BOHMS) at (1088,647) {8OHMS};
  \node[lbl, rotate=90] (CN201t) at (1027,770) {CN201\\F-CABLE 4P 2.5};
  \node[lbl] (S201t) at (1081,713) {S201\\SW SL 2-2-2\\5S322J2061201};
  \node[lbl] (V230) at (1087,827) {220-240V};
  \node[lbl] (V120) at (1093,840) {\~{}120V};
  \node[lbl] (S102t) at (1067,868) {S102\\SL 2-2-2\\VOL SELECT};
  % lower left labels
  \node[lbl] (APSt) at (465,727) {AUTO POWER\\ON/OFF SW};
  \node[lbl] (S501t) at (463,745) {S501\\SW SL 1-1-2};
  \node[lbl] (C507t) at (472,769) {C507\\0.1/50};
  \node[lbl] (R514t) at (460,790) {R514\\R517\\100k};
  \node[lbl] (R515t) at (492,802) {R515\\680};
  \node[lbl] (Q505t) at (479,830) {Q505\\KTA1145};
  \node[lbl] (R506t) at (358,829) {R506\\10k};
  \node[lbl] (R507t) at (396,826) {R507\\100k};
  \node[lbl] (R502t) at (297,844) {R502\\2.2M};
  \node[lbl] (C504t) at (382,853) {C504\\0.1/50};
  \node[lbl] (R508t) at (399,851) {R508\\10k};
  \node[lbl] (Q503t) at (436,832) {Q503\\2SD460};
  \node[lbl] (R505t) at (340,853) {R505\\4.7k};
  \node[lbl] (C502t) at (338,863) {C502};
  \node[lbl] (C301t) at (280,868) {C501\\1/50};
  \node[lbl] (R501t) at (293,872) {R501\\10k};
  \node[lbl] (R503t) at (294,915) {R503\\330k};
  \node[lbl] (R504t) at (321,889) {R504\\1M};
  \node[lbl] (C503t) at (338,912) {C503};
  \node[lbl] (Q501t) at (340,895) {Q501\\2SK2158};
  \node[lbl] (Q502t) at (383,878) {Q502\\KTA1266\\GR};
  \node[lbl] (R511t) at (437,863) {R511\\10k};
  \node[lbl] (Q504t) at (459,887) {Q504\\2SK2158};
  \node[lbl] (R509t) at (433,888) {R509\\1k};
  \node[lbl] (R510t) at (398,914) {R510\\1M};
  \node[lbl] (C505t) at (438,915) {C505\\22/25};
  \node[lbl] (C506t) at (491,897) {C506\\10/50};
  \node[lbl] (R524t) at (512,910) {R524\\10k};
  \node[lbl] (R521t) at (492,926) {R521\\10k};
  \node[lbl] (R523t) at (472,951) {R523\\1.5k};
  \node[lbl] (Q506t) at (524,966) {Q506\\2SK2158};
  \node[lbl] (CN301t) at (455,985) {CN301\\CONN 2P V WHT EH};
  \node[lbl, font=\ttfamily\fontsize{6}{6}\selectfont] (conn1) at (335,975) {CONN ASSY. 2P LED};
  \node[lbl, font=\ttfamily\fontsize{6}{6}\selectfont] (conn2) at (345,1034) {CONN ASSY. 2P AC U};
  \node[lbl] (D501t) at (205,1010) {D801\\LG3.2 GRN};
  \node[lbl, rotate=90] (R801t) at (218,989) {R815 10k};
  \node[lbl] (S801t) at (215,1027) {S101\\SW PUSH 1-0-1\\SPIG-SO-S};
  \node[lbl] (PSWt) at (211,1061) {POWER SW};
  \node[lbl] (T11t) at (254,978) {T1};
  \node[lbl] (T12t) at (254,996) {T2};
  \node[lbl] (T13t) at (254,1036) {T3};
  \node[lbl] (T14t) at (254,1055) {T4};
  % supply labels
  \node[lbl] (Q507t) at (597,1003) {Q507\\KTC3198GR};
  \node[lbl] (R526t) at (632,990) {R526\\2.2k};
  \node[lbl] (R525t) at (649,992) {R525\\10k};
  \node[lbl] (C308t) at (677,1014) {C308\\4.7/50};
  \node[lbl, rotate=90] (C104t) at (713,911) {C104\\3300/35};
  \node[lbl, rotate=90] (C105t) at (717,944) {C105\\3300/35};
  \node[lbl, rotate=90] (CN1101t) at (772,895) {CN1101\\CONN POWER 4P\\SEA EH};
  \node[lbl] (CN101t) at (818,898) {CN101\\CONN 4P V WHT EH};
  \node[lbl] (W1t) at (753,966) {W1 WIRE 1P};
  \node[lbl] (CN102t) at (793,999) {CN102\\CONN 2P V VH};
  % transformer labels
  \node[lbl] (D101t) at (847,910) {D101 1N5402};
  \node[lbl] (D102t) at (847,928) {D102 1N5402};
  \node[lbl] (D103t) at (847,938) {D103 1N5402};
  \node[lbl] (D104t) at (851,958) {D104\\1N5402};
  \node[lbl] (PR101t) at (898,910) {PR101 5000};
  \node[lbl] (PR102t) at (907,944) {PR102\\5000};
  \node[lbl, font=\ttfamily\fontsize{6.2}{6.2}\selectfont] (C102t) at (893,925) {C102\\0.1};
  \node[lbl, font=\ttfamily\fontsize{6.2}{6.2}\selectfont] (C103t) at (893,941) {C103\\0.1};
  \node[lbl] (T101t) at (942,908) {T101};
  \node[lbl] (R101t) at (900,969) {R101 15k R103 15k};
  \node[lbl] (R102t) at (900,986) {R102 15k R104 15k};
  \node[lbl] (R105t) at (859,977) {R105\\15k};
  \node[lbl] (D105t) at (940,955) {D105 1SS133};
  \node[lbl] (D106t) at (921,976) {D106 1SS133};
  \node[lbl, rotate=90] (C101t) at (1031,930) {C101\\0.1};
  \node[lbl] (T181t) at (1068,921) {T181\\1P\\TERMINAL};
  \node[lbl] (T182t) at (1066,952) {T182\\1P\\TERMINAL};
  % title block
  \draw[wire] (960,1027) -- (966,1036);
  \node[lbl] (titleA) at (952,1052) {SCHEMATIC DIAGRAM};
  \node[lbl] (titleB) at (969,1094) {ZYP-2};
  \node[lbl, font=\ttfamily\fontsize{6.2}{6.2}\selectfont] (titleC) at (1061,1094) {TS-W45};
  \node[lbl] (titleD) at (1062,1028) {EIJI YOSHIYA\\OKUHARA MAEKABE\\99/01/28 99/11/10};
\end{tikzpicture}
\end{document}
